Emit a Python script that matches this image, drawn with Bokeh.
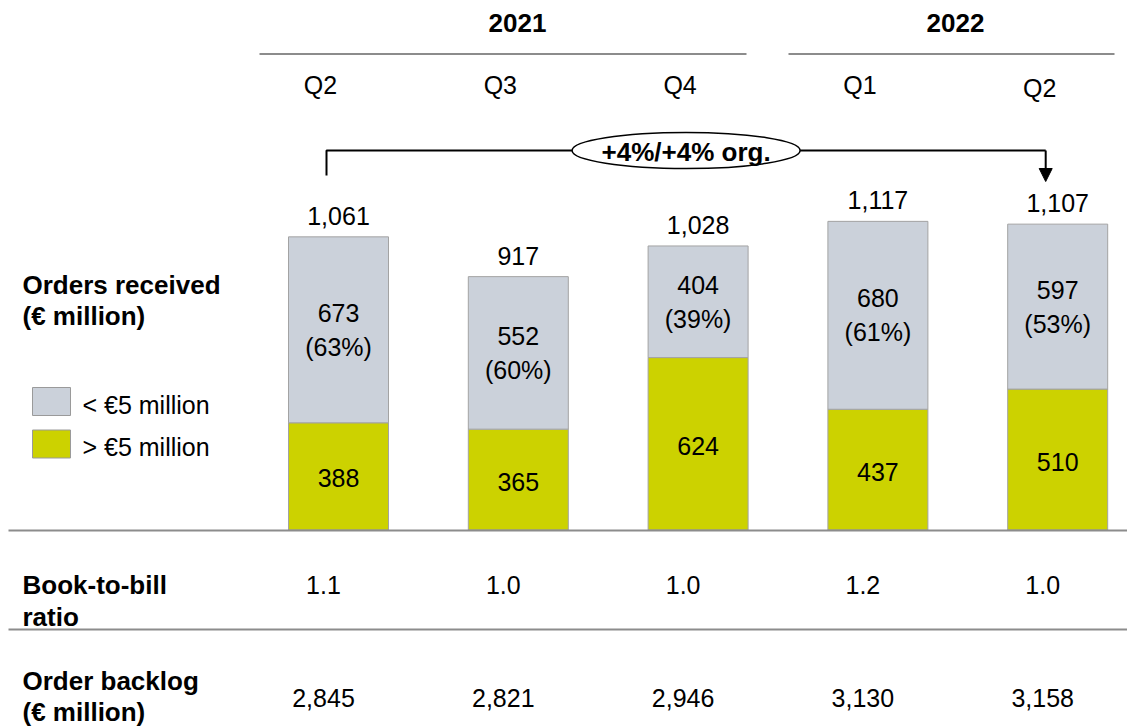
from bokeh.plotting import figure
from bokeh.models import Range1d, Arrow, NormalHead
from bokeh.core.properties import value
from bokeh.embed import file_html
from bokeh.resources import INLINE

# ---------------- data ----------------
quarters = ["Q2", "Q3", "Q4", "Q1", "Q2"]
years = ["2021", "2022"]
orders_large = [388, 365, 624, 437, 510]      # > €5 million
orders_small = [673, 552, 404, 680, 597]      # < €5 million
orders_total = [1061, 917, 1028, 1117, 1107]
small_share = ["63%", "60%", "39%", "61%", "53%"]
book_to_bill = ["1.1", "1.0", "1.0", "1.2", "1.0"]
order_backlog = ["2,845", "2,821", "2,946", "3,130", "3,158"]
growth_label = "+4%/+4% org."
legend_labels = ["< €5 million", "> €5 million"]

# ---------------- layout / style ----------------
W, H = 1127, 726
X0, DX = 338.0, 179.8          # screen x of first bar centre, spacing
BASE, K = 529.5, 0.2763        # screen y of bar base, px per € million
GRAY = "#cbd1da"
LIME = "#ccd200"
EDGE = "#a3a3a3"
RULE = "#8c8c8c"
FONT = value("Liberation Sans")
REG = "25px"
BOLD = "26px"

idx = list(range(len(quarters)))

p = figure(width=W, height=H, output_backend="svg", toolbar_location=None,
           x_range=Range1d((0 - X0) / DX, (W - X0) / DX),
           y_range=Range1d((BASE - H) / K, (BASE - 0) / K),
           min_border=0)
p.extra_x_ranges = {"px": Range1d(0, W)}
p.extra_y_ranges = {"py": Range1d(H, 0)}
p.axis.visible = False
p.grid.visible = False
p.outline_line_color = None
p.background_fill_color = "white"
p.border_fill_color = "white"

def txt(x, y, t, size=REG, bold=False, align="center", xr="default", yr="default",
        x_offset=0, y_offset=0):
    p.text(x=x, y=y, text=t, text_font=FONT, text_font_size=size,
           text_font_style="bold" if bold else "normal", text_color="black",
           text_align=align, text_baseline="middle",
           x_offset=x_offset, y_offset=y_offset,
           x_range_name=xr, y_range_name=yr)

# ---------------- bars ----------------
BW = 100 / DX
p.vbar(x=idx, width=BW, bottom=0, top=orders_large,
       fill_color=LIME, line_color=EDGE, line_width=1)
p.vbar(x=idx, width=BW, bottom=orders_large, top=orders_total,
       fill_color=GRAY, line_color=EDGE, line_width=1)

# totals above bars
txt(idx, orders_total, [f"{v:,}" for v in orders_total], y_offset=-21)
# gray segment labels
mid_small = [l + s / 2 for l, s in zip(orders_large, orders_small)]
txt(idx, mid_small, [str(v) for v in orders_small], y_offset=-17)
txt(idx, mid_small, [f"({s})" for s in small_share], y_offset=17)
# lime segment labels
txt(idx, [l / 2 for l in orders_large], [str(v) for v in orders_large], y_offset=2)

# ---------------- header ----------------
txt([517, 955], [22, 22], years, size=BOLD, bold=True, xr="px", yr="py")
p.segment(x0=[259, 788], y0=[53.5, 53.5], x1=[746, 1114], y1=[53.5, 53.5],
          line_color=RULE, line_width=2, x_range_name="px", y_range_name="py")
txt(idx, [84, 84, 84, 84, 87], quarters, yr="py", x_offset=-18)

# ---------------- growth bracket ----------------
SH = -12 / DX
p.line(x=[0 + SH, 0 + SH, 4 + SH], y=[175, 150, 150], line_color="black",
       line_width=2, y_range_name="py")
p.add_layout(Arrow(end=NormalHead(size=13, fill_color="black", line_color="black"),
                   x_start=4 + SH, y_start=150, x_end=4 + SH, y_end=181,
                   line_color="black", line_width=2, y_range_name="py"))
p.ellipse(x=[2 + SH], y=[150], width=228, height=36, width_units="screen",
          height_units="screen", fill_color="white", line_color="black",
          line_width=1.5, y_range_name="py")
txt([2 + SH], [151], [growth_label], size=BOLD, bold=True, yr="py")

# ---------------- left labels & legend ----------------
txt([22, 22], [284, 315], ["Orders received", "(€ million)"], size=BOLD, bold=True,
    align="left", xr="px", yr="py")
p.rect(x=[51, 51], y=[401, 443.5], width=38, height=28,
       fill_color=[GRAY, LIME], line_color="#9a9a9a", line_width=1,
       x_range_name="px", y_range_name="py")
txt([82, 82], [404, 446], legend_labels, align="left", xr="px", yr="py")

# ---------------- table rows ----------------
p.segment(x0=[8, 8], y0=[530, 629], x1=[W, W], y1=[530, 629],
          line_color=RULE, line_width=2, x_range_name="px", y_range_name="py")
txt([22, 22], [584, 616], ["Book-to-bill", "ratio"], size=BOLD, bold=True,
    align="left", xr="px", yr="py")
txt(idx, [584] * 5, book_to_bill, yr="py", x_offset=-15)
txt([22, 22], [680, 711], ["Order backlog", "(€ million)"], size=BOLD, bold=True,
    align="left", xr="px", yr="py")
txt(idx, [697] * 5, order_backlog, yr="py", x_offset=-15)

open("out.html", "w").write(file_html(p, INLINE))
